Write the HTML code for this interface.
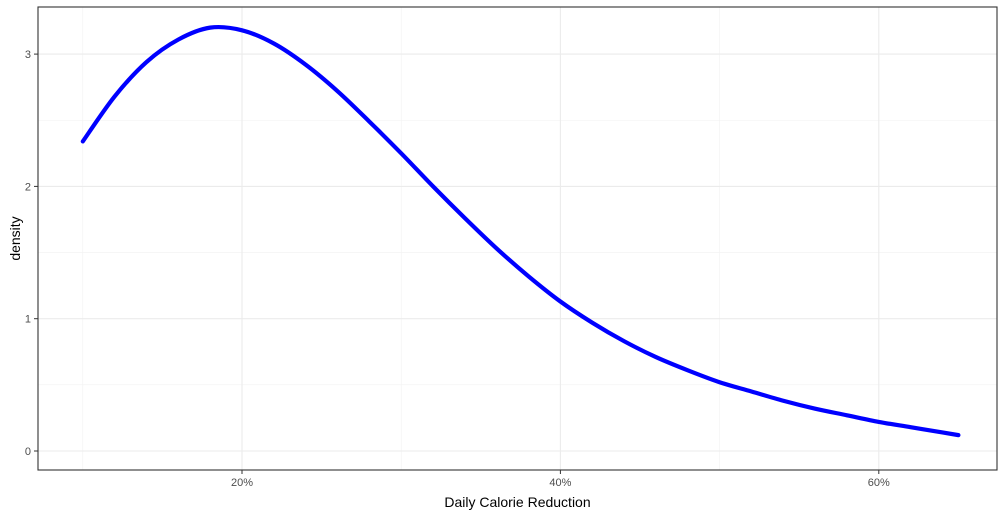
<!DOCTYPE html>
<html><head><meta charset="utf-8"><style>
body{margin:0;background:#fff;font-family:"Liberation Sans",sans-serif}
</style></head><body>
<svg id="chart" width="1006" height="517" xmlns="http://www.w3.org/2000/svg"></svg>
<script>
const xValues=[10,12,14,16,18,20,22,24,26,28,30,32,34,36,38,40,42,44,46,48,50,52,54,56,58,60,62,64,65];
const yValues=[2.34,2.68,2.94,3.11,3.2,3.18,3.08,2.92,2.72,2.49,2.25,2.0,1.76,1.53,1.32,1.13,0.97,0.83,0.71,0.61,0.52,0.45,0.38,0.32,0.27,0.22,0.18,0.14,0.12];
const xTicks=[20,40,60];
const xTickLabels=["20%","40%","60%"];
const yTicks=[0,1,2,3];
const yTickLabels=["0","1","2","3"];
const L=38,R=997,T=7,B=470;
const sx=v=>242+(v-20)*15.92;
const sy=v=>451-v*132.3;
const svg=document.getElementById('chart');
const NS='http://www.w3.org/2000/svg';
function mk(t,a){const e=document.createElementNS(NS,t);for(const k in a)e.setAttribute(k,a[k]);svg.appendChild(e);return e;}
let e=mk('rect',{x:L,y:T,width:R-L,height:B-T,fill:'#fff'});


[10,30,50].forEach(v=>{const g=mk('line',{x1:sx(v),x2:sx(v),y1:T,y2:B,stroke:'#f2f2f2','stroke-width':0.6});

});
[0.5,1.5,2.5].forEach(v=>{const g=mk('line',{x1:L,x2:R,y1:sy(v),y2:sy(v),stroke:'#f2f2f2','stroke-width':0.6});

});
xTicks.forEach((v,i)=>{const g=mk('line',{x1:sx(v),x2:sx(v),y1:T,y2:B,stroke:'#ebebeb','stroke-width':1.1});


const t=mk('line',{x1:sx(v),x2:sx(v),y1:B,y2:B+4,stroke:'#333'});


const l=mk('text',{x:sx(v),y:B+16,'text-anchor':'middle','font-size':11,fill:'#4d4d4d'});l.textContent=xTickLabels[i];

});
yTicks.forEach((v,i)=>{const g=mk('line',{x1:L,x2:R,y1:sy(v),y2:sy(v),stroke:'#ebebeb','stroke-width':1.1});


const t=mk('line',{x1:L-4,x2:L,y1:sy(v),y2:sy(v),stroke:'#333'});


const l=mk('text',{x:L-7,y:sy(v)+4,'text-anchor':'end','font-size':11,fill:'#4d4d4d'});l.textContent=yTickLabels[i];

});
const pts=xValues.map((x,i)=>[sx(x),sy(yValues[i])]);
let d='M'+pts[0][0]+','+pts[0][1];
for(let i=0;i<pts.length-1;i++){
  const p0=pts[Math.max(0,i-1)],p1=pts[i],p2=pts[i+1],p3=pts[Math.min(pts.length-1,i+2)];
  const c1x=p1[0]+(p2[0]-p0[0])/6,c1y=p1[1]+(p2[1]-p0[1])/6;
  const c2x=p2[0]-(p3[0]-p1[0])/6,c2y=p2[1]-(p3[1]-p1[1])/6;
  d+=' C'+c1x+','+c1y+' '+c2x+','+c2y+' '+p2[0]+','+p2[1];
}
const p=mk('path',{d:d,fill:'none',stroke:'#0000ff','stroke-width':4.2,'stroke-linecap':'round','stroke-linejoin':'round'});


e=mk('rect',{x:L,y:T,width:R-L,height:B-T,fill:'none',stroke:'#333','stroke-width':1.1});


const xt=mk('text',{x:(L+R)/2,y:507,'text-anchor':'middle','font-size':14,fill:'#000'});xt.textContent='Daily Calorie Reduction';


const yt=mk('text',{x:0,y:0,'text-anchor':'middle','font-size':14,fill:'#000',transform:'translate(20,'+((T+B)/2)+') rotate(-90)'});yt.textContent='density';


</script>
</body></html>
